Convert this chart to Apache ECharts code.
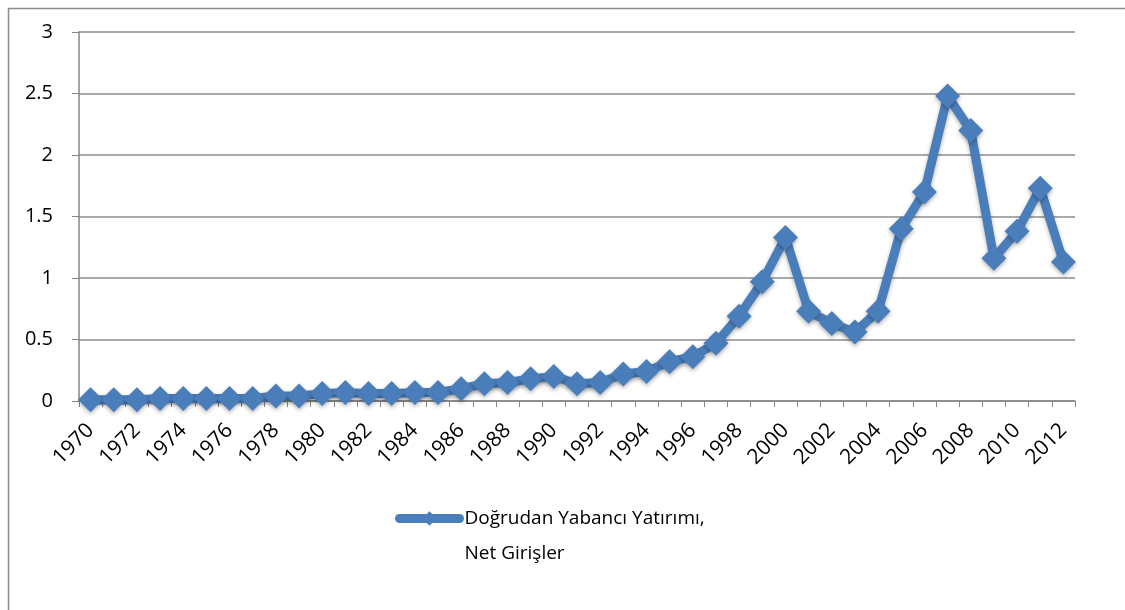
<!DOCTYPE html>
<html>
<head>
<meta charset="utf-8">
<script src="https://cdn.jsdelivr.net/npm/echarts@6/dist/echarts.min.js"></script>
<style>
  html, body { margin: 0; padding: 0; background: #fff; }
  #main { width: 1125px; height: 610px; }
</style>
</head>
<body>
<div id="main"></div>
<script>
// yillar 1970 - 2012
var years = [];
for (var y = 1970; y <= 2012; y++) { years.push(String(y)); }

var seriesName = 'Doğrudan Yabancı Yatırımı, Net Girişler';
var fdiValues = [
  0.01, 0.01, 0.01, 0.02, 0.02, 0.02, 0.02, 0.02, 0.04, 0.04,
  0.06, 0.07, 0.06, 0.06, 0.07, 0.07, 0.10, 0.14, 0.15, 0.18,
  0.20, 0.14, 0.15, 0.22, 0.24, 0.32, 0.36, 0.47, 0.69, 0.97,
  1.33, 0.73, 0.63, 0.56, 0.73, 1.40, 1.70, 2.48, 2.20, 1.16,
  1.38, 1.73, 1.13
];
var yTicks = [0, 0.5, 1, 1.5, 2, 2.5, 3];

var blue = '#4a7ebb';
var font = 'Open Sans';

var chart = echarts.init(document.getElementById('main'));
var option = {
  backgroundColor: '#fff',
  animation: false,
  graphic: [{
    type: 'rect',
    shape: { x: 8.5, y: 8.5, width: 1130, height: 620 },
    style: { fill: 'none', stroke: '#8c8c8c', lineWidth: 1.5 }
  }],
  grid: { left: 79, right: 50, top: 32, bottom: 209 },
  legend: {
    left: 390,
    top: 461,
    itemWidth: 60,
    itemHeight: 18,
    itemGap: 0,
    data: [seriesName],
    // ilk satir ikonla ayni hizada kalsin diye bos satir ekleniyor
    formatter: function (name) {
      return ' \n' + name.replace(', ', ',\n');
    },
    lineStyle: { width: 9, cap: 'round' },
    textStyle: {
      fontFamily: font,
      fontSize: 19,
      color: '#000',
      lineHeight: 35
    }
  },
  xAxis: {
    type: 'category',
    data: years,
    boundaryGap: true,
    axisLine: { lineStyle: { color: '#868686', width: 1.5 } },
    axisTick: { show: true, length: 6, interval: 0, lineStyle: { color: '#868686' } },
    axisLabel: {
      interval: 1,
      rotate: 45,
      margin: 26,
      fontFamily: font,
      fontSize: 21,
      color: '#000'
    }
  },
  yAxis: {
    type: 'value',
    min: yTicks[0],
    max: yTicks[yTicks.length - 1],
    interval: 0.5,
    axisLine: { show: true, lineStyle: { color: '#868686', width: 1.5 } },
    axisTick: { show: true, length: 7, lineStyle: { color: '#868686' } },
    axisLabel: {
      margin: 26,
      fontFamily: font,
      fontSize: 20,
      color: '#000'
    },
    splitLine: { lineStyle: { color: '#8c8c8c', width: 1.5 } }
  },
  series: [{
    name: seriesName,
    type: 'line',
    data: fdiValues,
    symbol: 'diamond',
    symbolSize: 25,
    showAllSymbol: true,
    lineStyle: {
      color: blue,
      width: 9,
      cap: 'round',
      join: 'round',
      shadowColor: 'rgba(0,0,0,0.3)',
      shadowBlur: 4,
      shadowOffsetY: 2
    },
    itemStyle: {
      color: blue,
      shadowColor: 'rgba(0,0,0,0.3)',
      shadowBlur: 4,
      shadowOffsetY: 2
    }
  }]
};
chart.setOption(option);
</script>
</body>
</html>
